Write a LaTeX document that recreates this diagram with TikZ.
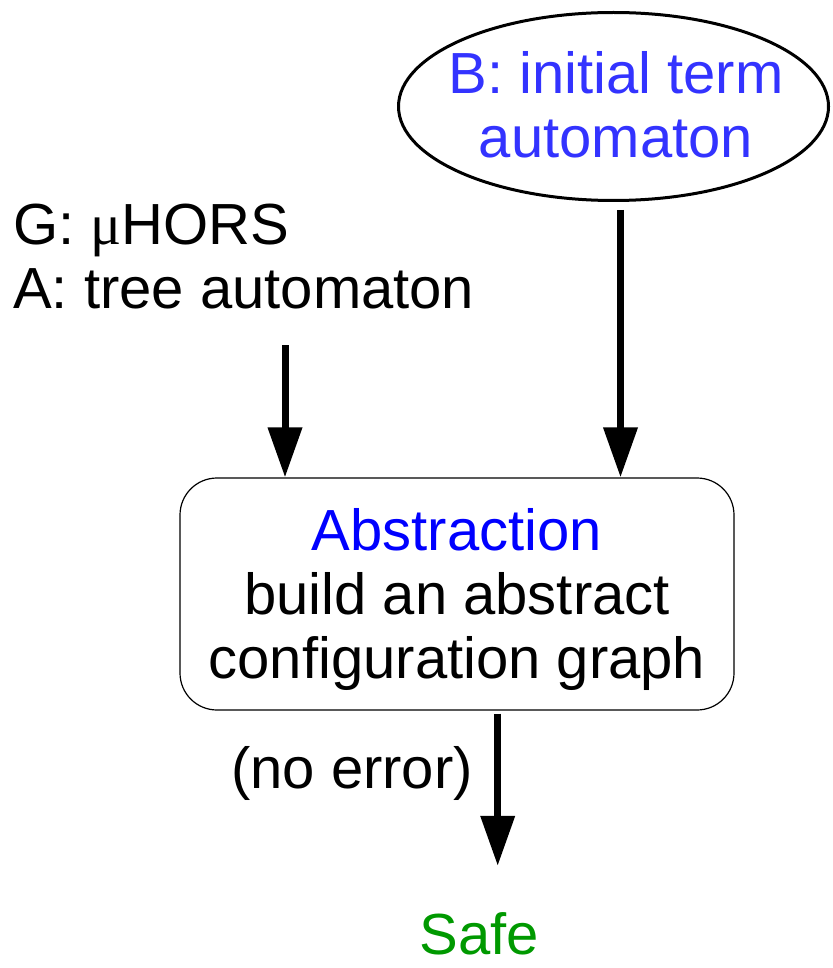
\documentclass[tikz,border=0pt]{standalone}
\usepackage{fontspec}
\setmainfont{Liberation Sans}
\newfontfamily\symserif{Liberation Serif}
\usetikzlibrary{arrows.meta,shapes.geometric}
\definecolor{termblue}{RGB}{51,51,255}
\definecolor{absblue}{RGB}{0,0,255}
\definecolor{safegreen}{RGB}{0,153,0}
\begin{document}
\begin{tikzpicture}[x=1pt,y=-1pt,
  word/.style={font=\fontsize{58}{64}\selectfont, inner sep=0pt},
  big/.style={word, align=center},
  flow/.style={line width=7pt, -{Triangle[length=50pt,width=33pt]}},
]
\useasboundingbox (0,0) rectangle (832,968);

% initial term automaton
\node[ellipse, draw, line width=3pt, minimum width=430pt, minimum height=188pt, inner sep=0pt] (init) at (613.5,106.5) {};
\node[big, text=termblue] (initlabel) at (616,104.5) {B: initial term\\automaton};

% inputs
\node[big, align=left, anchor=west] (inputs) at (13,257) {G: {\symserif μ}HORS\\A: tree automaton};

% abstraction step
\node[draw, rounded corners=37pt, line width=1.2pt, minimum width=554pt, minimum height=232pt, inner sep=0pt] (abs) at (457,594) {};
\node[big] (abstext) at (457,599.5) {\textcolor{absblue}{Abstraction}\\build an abstract\\configuration graph};

% result
\node[word, anchor=base] (noerr) at (352,788) {(no error)};
\node[word, anchor=base, text=safegreen] (safe) at (479.5,954) {Safe};

% connectors
\coordinate (in1) at (285,345);
\draw[flow] (in1) -- (in1 |- abs.north);
\path (init.south) ++(7,8) coordinate (bstart);
\draw[flow] (bstart) -- (bstart |- abs.north);
\path (abs.south) ++(40.7,3) coordinate (cstart);
\draw[flow, shorten >=46pt] (cstart) -- (cstart |- safe.north);
\end{tikzpicture}
\end{document}
